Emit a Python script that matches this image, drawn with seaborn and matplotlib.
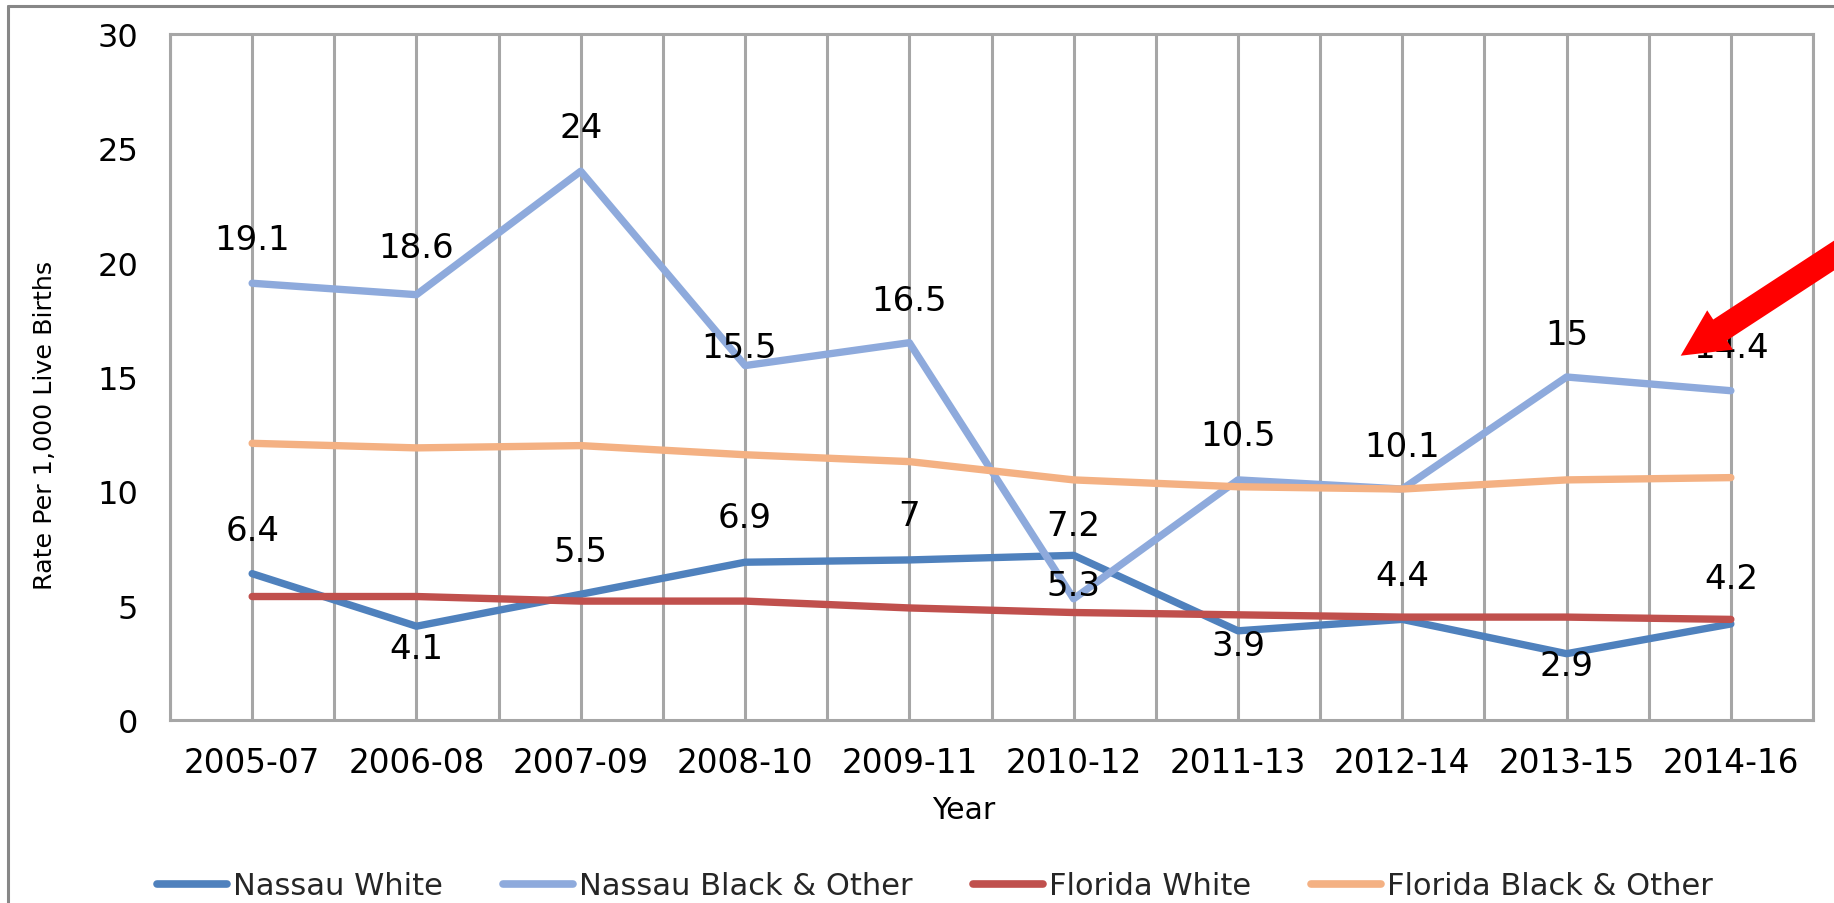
import numpy as np
import pandas as pd
import matplotlib
matplotlib.use('Agg')
import matplotlib.pyplot as plt
import seaborn as sns
from matplotlib.lines import Line2D
from matplotlib.patches import FancyArrow
from matplotlib.transforms import IdentityTransform

# data
years = ['2005-07', '2006-08', '2007-09', '2008-10', '2009-11',
         '2010-12', '2011-13', '2012-14', '2013-15', '2014-16']
nassau_white = [6.4, 4.1, 5.5, 6.9, 7, 7.2, 3.9, 4.4, 2.9, 4.2]
nassau_black = [19.1, 18.6, 24, 15.5, 16.5, 5.3, 10.5, 10.1, 15, 14.4]
florida_white = [5.4, 5.4, 5.2, 5.2, 4.9, 4.7, 4.6, 4.5, 4.5, 4.4]
florida_black = [12.1, 11.9, 12.0, 11.6, 11.3, 10.5, 10.2, 10.1, 10.5, 10.6]
series_names = ['Nassau White', 'Nassau Black & Other', 'Florida White', 'Florida Black & Other']

# data label offsets in pixels (Excel placed them above / below)
nw_label_dy = [43, -22, 43, 45, 44, 30, -15, 44, -12, 45]
nb_label_dy = [44, 47, 44, 18, 42, 13, 44, 43, 42, 43]
nb_label_dx = [0, 0, 0, -6, 0, 0, 0, 0, 0, 0]

colors = {'Nassau White': '#4f81bd', 'Nassau Black & Other': '#8eaadc',
          'Florida White': '#c0504d', 'Florida Black & Other': '#f4b183'}
grid_col = '#a6a6a6'

sns.set_style('white')
plt.rcParams['font.family'] = ['DejaVu Sans']

df = pd.DataFrame({
    'x': np.tile(np.arange(len(years)), 4),
    'rate': nassau_white + nassau_black + florida_white + florida_black,
    'series': np.repeat(series_names, len(years)),
})

fig, ax = plt.subplots(figsize=(18.34, 9.04), dpi=100)
fig.subplots_adjust(left=170/1834, right=1813/1834, bottom=(904-721)/904, top=(904-35)/904)

sns.lineplot(data=df, x='x', y='rate', hue='series', hue_order=series_names,
             palette=colors, linewidth=5.3, sort=False, errorbar=None, legend=False,
             ax=ax, solid_capstyle='round', solid_joinstyle='round', zorder=3)

ax.set_xlim(-0.5, len(years) - 0.5)
ax.set_ylim(0, 30)
ax.set_yticks(range(0, 31, 5))
ax.set_xticks(range(len(years)))
ax.set_xticklabels(years)
ax.set_xticks(np.arange(-0.5, len(years), 1), minor=True)
ax.grid(axis='x', which='both', color=grid_col, lw=2.2)
ax.grid(axis='y', visible=False)
ax.set_axisbelow(True)
ax.tick_params(which='both', length=0)
ax.tick_params(axis='y', pad=23, labelsize=23, labelcolor='black')
ax.tick_params(axis='x', pad=19, labelsize=23.5, labelcolor='black')
for s in ax.spines.values():
    s.set_color(grid_col)
    s.set_linewidth(2.2)

ax.set_xlabel('Year', fontsize=21.5, color='black')
ax.xaxis.set_label_coords(0.4833, -0.109)
ax.set_ylabel('Rate Per 1,000 Live Births', fontsize=18.3, color='black')
ax.yaxis.set_label_coords(-0.069, 0.4315)

# data labels
for i, v in enumerate(nassau_white):
    ax.annotate(f'{v:g}', (i, v), xytext=(0, nw_label_dy[i]), textcoords='offset pixels',
                ha='center', va='center', fontsize=24.5, color='black', zorder=5)
for i, v in enumerate(nassau_black):
    ax.annotate(f'{v:g}', (i, v), xytext=(nb_label_dx[i], nb_label_dy[i]), textcoords='offset pixels',
                ha='center', va='center', fontsize=24.5, color='black', zorder=5)

# legend
handles = [Line2D([], [], color=colors[n], lw=5.5, solid_capstyle='round') for n in series_names]
fig.legend(handles, series_names, loc='center', bbox_to_anchor=(935/1834, 1 - 887/904),
           ncol=4, frameon=False, fontsize=22, handlelength=2.3, handletextpad=0.2,
           columnspacing=1.95)

# outer chart border (left and top only, rest cropped)
fig.add_artist(Line2D([8/1834, 8/1834], [0, 1 - 7/904], transform=fig.transFigure,
                      color='#878787', lw=2.2))
fig.add_artist(Line2D([8/1834, 1], [1 - 7/904, 1 - 7/904], transform=fig.transFigure,
                      color='#878787', lw=2.2))

# red call-out arrow
arrow = FancyArrow(1860, 664.4, -179.3, -117.1, width=25, head_width=47, head_length=47,
                   length_includes_head=True, color='#ff0000', lw=0,
                   transform=IdentityTransform(), zorder=10)
fig.add_artist(arrow)

plt.savefig('out.png', dpi=100)
